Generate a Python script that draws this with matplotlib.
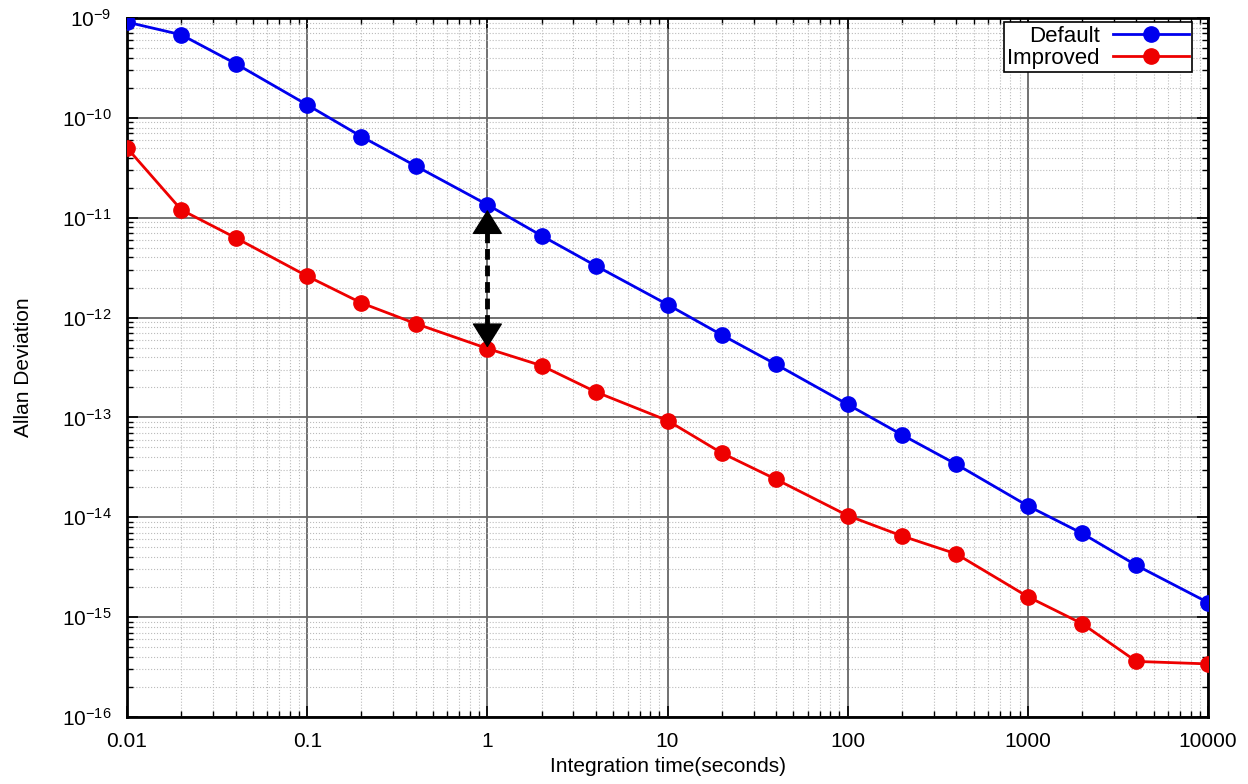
import numpy as np
import matplotlib.pyplot as plt
from matplotlib.ticker import NullFormatter

plt.rcParams['font.family'] = ['Liberation Sans', 'DejaVu Sans']
plt.rcParams['mathtext.fontset'] = 'custom'
plt.rcParams['mathtext.rm'] = 'Liberation Sans'

# integration times (s)
tau = [0.01, 0.02, 0.04, 0.1, 0.2, 0.4, 1, 2, 4, 10, 20, 40,
       100, 200, 400, 1000, 2000, 4000, 10000]

# Allan deviation
default = [9.1e-10, 6.8e-10, 3.5e-10, 1.35e-10, 6.5e-11, 3.3e-11, 1.35e-11,
           6.6e-12, 3.3e-12, 1.35e-12, 6.7e-13, 3.4e-13, 1.35e-13, 6.7e-14,
           3.4e-14, 1.3e-14, 6.9e-15, 3.3e-15, 1.4e-15]
improved = [5.0e-11, 1.2e-11, 6.3e-12, 2.6e-12, 1.4e-12, 8.7e-13, 4.9e-13,
            3.3e-13, 1.8e-13, 9.3e-14, 4.4e-14, 2.4e-14, 1.04e-14, 6.5e-15,
            4.3e-15, 1.6e-15, 8.6e-16, 3.6e-16, 3.4e-16]

# double arrow between the curves at tau = 1 s (tips and head bases)
arrow_x = 1
arrow_tip_top, arrow_base_top = 1.2e-11, 7.2e-12
arrow_tip_bot, arrow_base_bot = 5.0e-13, 8.1e-13

fig = plt.figure(figsize=(12.48, 7.84), dpi=100)
ax = fig.add_axes([0.1018, 0.0855, 0.8662, 0.8915])
ax.set_xscale('log')
ax.set_yscale('log')

ax.plot(tau, default, '-o', color='#0000ee', lw=2, ms=11, label='Default', zorder=3)
ax.plot(tau, improved, '-o', color='#ee0000', lw=2, ms=11, label='Improved', zorder=3)

# dashed shaft + two solid heads
ax.plot([arrow_x, arrow_x], [arrow_base_top, arrow_base_bot], color='black',
        lw=3.5, dashes=(2.2, 1.2), zorder=4)
head = dict(arrowstyle='-|>,head_length=0.8,head_width=0.5', mutation_scale=20,
            color='black', lw=1, shrinkA=0, shrinkB=0)
ax.annotate('', xy=(arrow_x, arrow_tip_top), xytext=(arrow_x, arrow_base_top),
            arrowprops=head, zorder=5)
ax.annotate('', xy=(arrow_x, arrow_tip_bot), xytext=(arrow_x, arrow_base_bot),
            arrowprops=head, zorder=5)

ax.set_xlim(0.01, 10000)
ax.set_ylim(1e-16, 1e-9)
ax.set_xticks([0.01, 0.1, 1, 10, 100, 1000, 10000])
ax.set_xticklabels(['0.01', '0.1', '1', '10', '100', '1000', '10000'])
ax.xaxis.set_minor_formatter(NullFormatter())
ax.yaxis.set_minor_formatter(NullFormatter())

ax.grid(which='major', color='#666666', lw=1.3, ls='-')
ax.grid(which='minor', color='#bbbbbb', lw=0.8, ls=':')
ax.tick_params(which='both', direction='in', labelsize=15, top=True, right=True)
ax.tick_params(which='major', length=8, width=1.2, pad=11)
ax.tick_params(which='minor', length=4, width=1)
for s in ax.spines.values():
    s.set_linewidth(2)

ax.set_xlabel('Integration time(seconds)', fontsize=15, labelpad=4)
ax.set_ylabel('Allan Deviation', fontsize=15, labelpad=21)

leg = ax.legend(loc='upper right', bbox_to_anchor=(0.985, 0.994), markerfirst=False,
                fontsize=16, fancybox=False, framealpha=1, edgecolor='black',
                borderpad=0.15, labelspacing=0.05, handlelength=3.4,
                handletextpad=0.6, borderaxespad=0)
leg.get_frame().set_linewidth(1.2)

fig.savefig('out.png', dpi=100)
